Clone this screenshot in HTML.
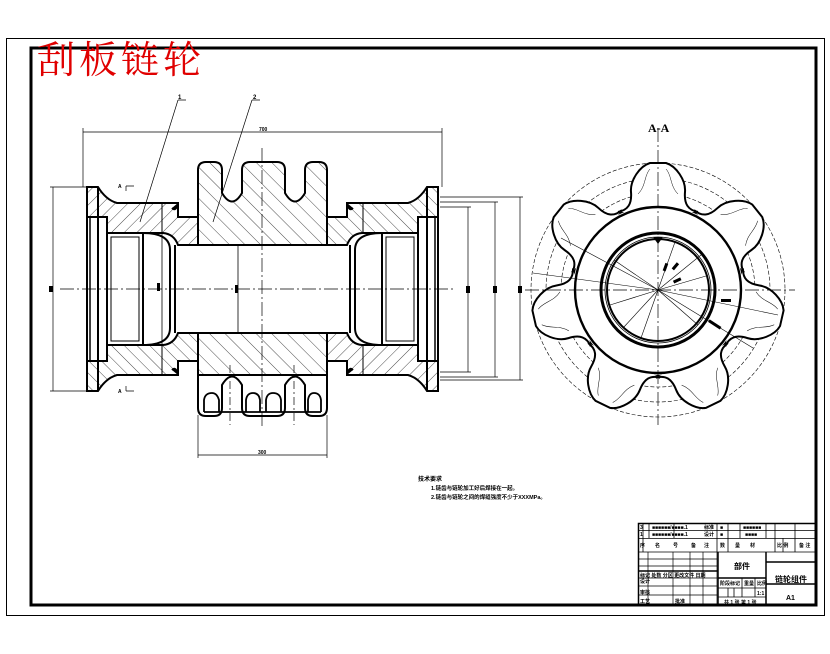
<!DOCTYPE html>
<html><head><meta charset="utf-8"><style>
html,body{margin:0;padding:0;background:#fff;}
svg{display:block;}
.t{font-family:"Liberation Sans","Noto Sans CJK SC",sans-serif;font-weight:bold;fill:#000;}
</style></head><body>
<svg width="830" height="654" viewBox="0 0 830 654" xmlns="http://www.w3.org/2000/svg">
<defs>
<pattern id="h1" patternUnits="userSpaceOnUse" width="9" height="9" patternTransform="rotate(45)">
<rect width="9" height="9" fill="#fff"/><line x1="0" y1="0" x2="0" y2="9" stroke="#000" stroke-width="0.7"/></pattern>
<pattern id="h2" patternUnits="userSpaceOnUse" width="11" height="11" patternTransform="rotate(-45)">
<rect width="11" height="11" fill="#fff"/><line x1="0" y1="0" x2="0" y2="11" stroke="#000" stroke-width="0.7"/></pattern>
<g id="tooth">
<path d="M-40,-78 C-30,-80 -26,-86 -27,-98 C-28,-110 -18,-124 -8,-127 L8,-127 C18,-124 28,-110 27,-98 C26,-86 30,-80 40,-78" fill="#fff" stroke="#000" stroke-width="2"/>
<path d="M-20,-96 C-12,-104 -14,-114 -8,-121 M20,-96 C12,-104 14,-114 8,-121" fill="none" stroke="#000" stroke-width="0.5"/>
</g>
<g id="halfL">
<path d="M87,187 L98,187 Q106,200 117,203 L178,203 L178,217 L198,217 L198,245 L178,245 Q174,234 163,233 L107,233 L107,217 L87,217 Z" fill="url(#h1)" stroke="#000" stroke-width="2"/>
<path d="M178,203 Q176,212 172,208" fill="#000" stroke="#000" stroke-width="2"/>
<line x1="162" y1="203" x2="162" y2="233" stroke="#000" stroke-width="1"/>
</g>
<path id="teeth" d="M198,245 L198,170 Q198,162 206,162 L214,162 Q222,162 222,170 L222,193 Q232,210 242,193 L242,170 Q242,162 250,162 L277,162 Q285,162 285,170 L285,193 Q295,210 305,193 L305,170 Q305,162 313,162 L319,162 Q327,162 327,170 L327,245 Z"/>
</defs>
<rect width="830" height="654" fill="#fff"/>
<rect x="6.5" y="38.5" width="818" height="577" fill="none" stroke="#000" stroke-width="1"/>
<rect x="31" y="48" width="785" height="557" fill="none" stroke="#000" stroke-width="3"/>
<text x="37" y="73" font-family="'Noto Serif CJK SC','WenQuanYi Zen Hei',serif" font-size="38" fill="#e00000" letter-spacing="4">刮板链轮</text>

<!-- LEFT VIEW -->
<use href="#halfL"/>
<use href="#halfL" transform="matrix(1,0,0,-1,0,578)"/>
<use href="#halfL" transform="matrix(-1,0,0,1,525,0)"/>
<use href="#halfL" transform="matrix(-1,0,0,-1,525,578)"/>
<path d="M87,187 L87,391 M98,187 L98,391" stroke="#000" stroke-width="2" fill="none"/>
<path d="M438,187 L438,391 M427,187 L427,391" stroke="#000" stroke-width="2" fill="none"/>
<path d="M90,217 L90,361 M435,217 L435,361" stroke="#000" stroke-width="1.5"/>
<use href="#teeth" fill="url(#h2)" stroke="#000" stroke-width="2"/>
<use href="#teeth" transform="matrix(1,0,0,-1,0,578)" fill="#fff" stroke="#000" stroke-width="2"/>
<path d="M198,333 L327,333 L327,375 L198,375 Z" fill="url(#h2)" stroke="#000" stroke-width="2"/>
<path d="M204,412 L204,400 Q205,393 212,393 Q217,393 219,400 L219,412 M246,412 L246,400 Q247,393 253,393 Q259,393 260,400 L260,412 M266,412 L266,400 Q267,393 273,393 Q280,393 281,400 L281,412 M308,412 L308,400 Q309,393 314,393 Q320,393 321,400 L321,412 M204,412 L321,412" fill="none" stroke="#000" stroke-width="1.8"/>
<path d="M178,245 L347,245 M178,333 L347,333 M175,245 L175,333 M350,245 L350,333" stroke="#000" stroke-width="2"/>
<line x1="238" y1="245" x2="238" y2="333" stroke="#000" stroke-width="0.8"/>
<rect x="107" y="233" width="36" height="112" fill="#fff" stroke="#000" stroke-width="2"/>
<rect x="111" y="237" width="28" height="104" fill="none" stroke="#000" stroke-width="1"/>
<rect x="382" y="233" width="36" height="112" fill="#fff" stroke="#000" stroke-width="2"/>
<rect x="386" y="237" width="28" height="104" fill="none" stroke="#000" stroke-width="1"/>
<path d="M143,233 Q170,233 170,250 L170,328 Q170,345 143,345 M382,233 Q355,233 355,250 L355,328 Q355,345 382,345" fill="none" stroke="#000" stroke-width="2"/>
<line x1="162" y1="233" x2="162" y2="345" stroke="#000" stroke-width="0.8"/>
<line x1="60" y1="289" x2="455" y2="289" stroke="#000" stroke-width="0.7" stroke-dasharray="14,3,2,3"/>
<line x1="262" y1="148" x2="262" y2="427" stroke="#000" stroke-width="0.7" stroke-dasharray="14,3,2,3"/>
<line x1="230" y1="365" x2="230" y2="425" stroke="#000" stroke-width="0.7" stroke-dasharray="8,3,2,3"/>
<line x1="294" y1="365" x2="294" y2="425" stroke="#000" stroke-width="0.7" stroke-dasharray="8,3,2,3"/>
<g stroke="#000" stroke-width="0.7" fill="none">
<path d="M83,132 L442,132 M83,128 L83,187 M442,128 L442,187"/>
<path d="M198,455 L327,455 M198,415 L198,458 M327,415 L327,458"/>
<path d="M53,187 L53,391 M50,187 L87,187 M50,391 L87,391"/>
<path d="M468,207 L468,372 M495,202 L495,377 M520,197 L520,380 M440,207 L471,207 M440,372 L471,372 M440,202 L498,202 M440,377 L498,377 M440,197 L523,197 M440,380 L523,380"/>
<path d="M178,100 L186,100 M178,100 L140,222 M252,100 L260,100 M252,100 L213,222"/>
<path d="M126,186 L126,191 M126,186 L134,186 M126,391 L126,386 M126,391 L134,391"/>
</g>
<text class="t" x="259" y="131" font-size="5">700</text>
<text class="t" x="258" y="454" font-size="5">300</text>
<text class="t" x="178" y="99" font-size="6">1</text>
<text class="t" x="253" y="99" font-size="6">2</text>
<text class="t" x="118" y="188" font-size="5">A</text>
<text class="t" x="118" y="393" font-size="5">A</text>
<rect x="49" y="286" width="4" height="6" fill="#000"/>
<rect x="157" y="283" width="3" height="8" fill="#000"/>
<rect x="235" y="285" width="3" height="8" fill="#000"/>
<rect x="466" y="286" width="4" height="7" fill="#000"/>
<rect x="493" y="286" width="4" height="7" fill="#000"/>
<rect x="518" y="286" width="4" height="7" fill="#000"/>

<!-- RIGHT VIEW -->
<text x="648" y="132" font-family="'Liberation Serif',serif" font-weight="bold" font-size="12">A-A</text>
<g transform="translate(658,290)">
<circle r="127" fill="none" stroke="#000" stroke-width="0.6" stroke-dasharray="4,2"/>
<circle r="112" fill="none" stroke="#000" stroke-width="0.6" stroke-dasharray="4,2"/>
<circle r="97" fill="none" stroke="#000" stroke-width="0.6" stroke-dasharray="4,2"/>
<circle r="86" fill="#fff" stroke="#000" stroke-width="2.2"/>
<use href="#tooth"/>
<use href="#tooth" transform="rotate(51.43)"/>
<use href="#tooth" transform="rotate(102.86)"/>
<use href="#tooth" transform="rotate(154.29)"/>
<use href="#tooth" transform="rotate(205.71)"/>
<use href="#tooth" transform="rotate(257.14)"/>
<use href="#tooth" transform="rotate(308.57)"/>
<circle r="83" fill="none" stroke="#000" stroke-width="2.4"/>
<circle r="57" fill="#fff" stroke="#000" stroke-width="3"/>
<circle r="53" fill="none" stroke="#000" stroke-width="0.8"/>
<circle r="51" fill="none" stroke="#000" stroke-width="2"/>
<g stroke="#000" stroke-width="0.6">
<line x1="0" y1="0" x2="-97" y2="-52"/><line x1="0" y1="0" x2="-125" y2="-17"/>
<line x1="0" y1="0" x2="120" y2="25"/><line x1="0" y1="0" x2="95" y2="58"/>
<line x1="0" y1="0" x2="17" y2="-48"/><line x1="0" y1="0" x2="43" y2="-35"/><line x1="0" y1="0" x2="48" y2="-14"/>
<line x1="0" y1="0" x2="-35" y2="38"/><line x1="0" y1="0" x2="-17" y2="48"/><line x1="0" y1="0" x2="-48" y2="15"/>
<line x1="0" y1="0" x2="40" y2="35"/><line x1="0" y1="0" x2="-44" y2="-30"/>
</g>
<line x1="-133" y1="0" x2="137" y2="0" stroke="#000" stroke-width="0.7" stroke-dasharray="14,3,2,3"/>
<line x1="0" y1="-162" x2="0" y2="135" stroke="#000" stroke-width="0.7" stroke-dasharray="14,3,2,3"/>
<path d="M-5,-53 L0,-46 L5,-53 Z" fill="#000"/>
<rect x="6" y="-27" width="3" height="8" fill="#000" transform="rotate(20 7 -23)"/>
<rect x="16" y="-28" width="3" height="8" fill="#000" transform="rotate(40 17 -24)"/>
<rect x="18" y="-14" width="3" height="8" fill="#000" transform="rotate(65 19 -10)"/>
<rect x="63" y="9" width="10" height="3" fill="#000"/>
<rect x="50" y="33" width="14" height="3" fill="#000" transform="rotate(33 57 34)"/>
</g>

<text class="t" x="418" y="481" font-size="6">技术要求</text>
<text class="t" x="431" y="490" font-size="5.5">1.链齿与链轮加工好后焊接在一起。</text>
<text class="t" x="431" y="499" font-size="5.5">2.链齿与链轮之间的焊缝强度不少于XXXMPa。</text>

<g stroke="#000" fill="none">
<rect x="638.5" y="523.5" width="177" height="81" stroke-width="1.5"/>
<path d="M638,530.5 H816 M638,538.5 H816 M638,552 H816" stroke-width="0.8"/>
<path d="M643,523 V552 M649,523 V538 M674,523 V538 M717,523 V552 M728,523 V552 M740,523 V538 M766,523 V538 M775,523 V552 M795,523 V552 M783,538 V552" stroke-width="0.8"/>
<path d="M638,559 H717 M638,566 H717 M638,578 H717 M638,586 H717 M638,595 H717" stroke-width="0.7"/>
<path d="M638,571 H718" stroke-width="1.5"/>
<path d="M648,552 V605 M673,552 V605 M690,552 V605 M703,552 V605 M717,552 V605" stroke-width="0.7"/>
<path d="M718,552 V605 M766,552 V605 M718,578 H766 M766,562 H816 M766,584 H816" stroke-width="1.5"/>
<path d="M718,588 H766 M718,597 H766 M742,578 V597 M755,578 V597 M728,588 V597 M734,588 V597" stroke-width="0.8"/>
</g>
<g class="t" font-size="5">
<text x="640" y="529">3</text><text x="652" y="529">■■■■■■/■■■■.1</text><text x="704" y="529">标准</text><text x="720" y="529">■</text><text x="743" y="529">■■■■■■</text>
<text x="640" y="536">1</text><text x="652" y="536">■■■■■■/■■■■.1</text><text x="704" y="536">设计</text><text x="720" y="536">■</text><text x="745" y="536">■■■■</text>
<text x="640" y="547">序</text><text x="655" y="547">名</text><text x="673" y="547">号</text><text x="691" y="547">备</text><text x="704" y="547">注</text><text x="720" y="547">数</text><text x="735" y="547">量</text><text x="750" y="547">材</text><text x="777" y="547">比 例</text><text x="799" y="547">备 注</text>
<text x="734" y="569" font-size="8">部件</text>
<text x="775" y="582" font-size="8">链轮组件</text>
<text x="786" y="600" font-size="7">A1</text>
<text x="640" y="577">标记 处数 分区 更改文件 日期</text>
<text x="720" y="585">阶段标记</text><text x="744" y="585">重量</text><text x="757" y="585">比例</text>
<text x="757" y="595">1:1</text>
<text x="640" y="583">设计</text><text x="640" y="594">审核</text><text x="640" y="603">工艺</text><text x="675" y="603">批准</text>
<text x="724" y="604">共 1 张 第 1 张</text>
</g>
</svg>
</body></html>
